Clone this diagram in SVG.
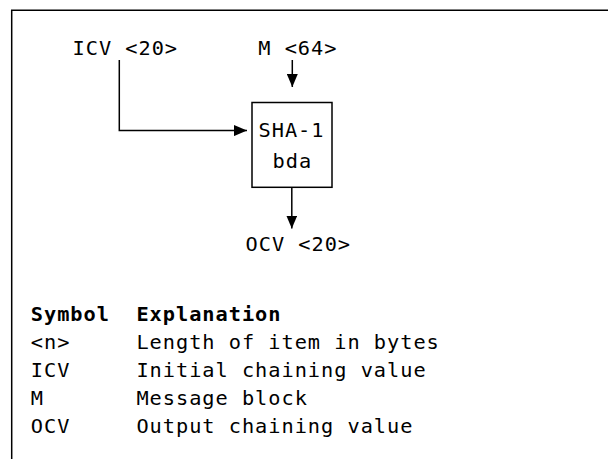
<svg xmlns="http://www.w3.org/2000/svg" width="608" height="459" viewBox="0 0 608 459">
  <style>
    .t { font-family: "DejaVu Sans Mono", "Liberation Mono", monospace; font-size: 20.3px; letter-spacing: 0.98px; fill: #000; }
    .b { font-weight: bold; }
    .ln { fill: none; stroke: #000; stroke-width: 1.5; }
  </style>
  <defs>
    <marker id="ah" viewBox="0 0 13 11" refX="13" refY="5.5" markerWidth="13" markerHeight="11" markerUnits="userSpaceOnUse" orient="auto">
      <path d="M0,0 L13,5.5 L0,11 Z" fill="#000"/>
    </marker>
  </defs>
  <rect width="608" height="459" fill="#fff"/>
  <path class="ln" d="M11.7,459 V10.3 H608" stroke-width="1.6"/>

  <g id="connectors">
    <path class="ln" d="M119.3,60 V130.6 H247" marker-end="url(#ah)"/>
    <path class="ln" d="M292.3,60 V87" marker-end="url(#ah)"/>
    <path class="ln" d="M291.8,187.3 V228.5" marker-end="url(#ah)"/>
  </g>

  <g id="icv">
    <text class="t" x="72.5" y="55">ICV &lt;20&gt;</text>
  </g>
  <g id="m">
    <text class="t" x="258.3" y="55">M &lt;64&gt;</text>
  </g>
  <g id="sha1">
    <rect class="ln" x="252" y="102.5" width="80" height="84.8"/>
    <text class="t" x="258.5" y="137">SHA-1</text>
    <text class="t" x="272.6" y="167.5">bda</text>
  </g>
  <g id="ocv">
    <text class="t" x="245.5" y="251">OCV &lt;20&gt;</text>
  </g>

  <g id="legend">
    <text class="t b" x="30.8" y="320.5">Symbol</text>
    <text class="t b" x="136.4" y="320.5">Explanation</text>
    <text class="t" x="30.8" y="348.7">&lt;n&gt;</text>
    <text class="t" x="136.4" y="348.7">Length of item in bytes</text>
    <text class="t" x="30.8" y="377">ICV</text>
    <text class="t" x="136.4" y="377">Initial chaining value</text>
    <text class="t" x="30.8" y="405.2">M</text>
    <text class="t" x="136.4" y="405.2">Message block</text>
    <text class="t" x="30.8" y="433.4">OCV</text>
    <text class="t" x="136.4" y="433.4">Output chaining value</text>
  </g>
</svg>
